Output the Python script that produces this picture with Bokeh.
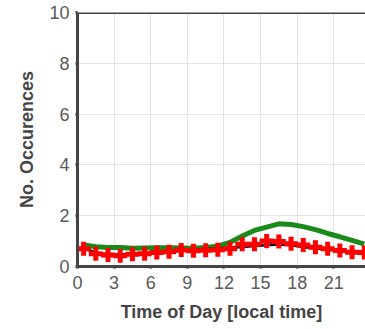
from bokeh.plotting import figure
from bokeh.models import FixedTicker, Range1d, Span
from bokeh.embed import file_html
from bokeh.resources import INLINE

hours = [h + 0.5 for h in range(24)]
green_vals = [0.85, 0.78, 0.75, 0.75, 0.72, 0.73, 0.74, 0.74, 0.73, 0.72, 0.75, 0.80,
              0.95, 1.20, 1.42, 1.55, 1.68, 1.65, 1.57, 1.45, 1.30, 1.17, 1.03, 0.88]
black_vals = [0.75, 0.52, 0.47, 0.46, 0.50, 0.52, 0.55, 0.59, 0.62, 0.65, 0.68, 0.70,
              0.74, 0.78, 0.82, 0.85, 0.88, 0.85, 0.78, 0.72, 0.67, 0.62, 0.58, 0.55]
red_vals = [0.70, 0.50, 0.45, 0.42, 0.48, 0.50, 0.55, 0.58, 0.65, 0.62, 0.64, 0.66,
            0.70, 0.88, 0.88, 1.00, 0.98, 0.90, 0.85, 0.76, 0.70, 0.63, 0.56, 0.55]
x_ticks = [0, 3, 6, 9, 12, 15, 18, 21, 24]
y_ticks = [0, 2, 4, 6, 8, 10]

FONT = "Liberation Sans"
AX = "#444444"

p = figure(width=365, height=329, output_backend="svg", toolbar_location=None,
           x_range=Range1d(0, 23.6), y_range=Range1d(0, 10),
           min_border_left=77, min_border_top=12, min_border_bottom=63, min_border_right=0)
p.outline_line_color = None
p.background_fill_color = "white"
p.border_fill_color = "white"

for ax in (p.xaxis[0], p.yaxis[0]):
    ax.axis_line_color = AX
    ax.axis_line_width = 3
    ax.major_tick_line_color = AX
    ax.major_tick_line_width = 3
    ax.major_tick_in = 0
    ax.major_tick_out = 2
    ax.minor_tick_line_color = None
    ax.major_label_text_font = FONT
    ax.major_label_text_font_size = "18px"
    ax.major_label_text_color = "#5a5a5a"
    ax.axis_label_text_font = FONT
    ax.axis_label_text_font_size = "18px"
    ax.axis_label_text_font_style = "bold"
    ax.axis_label_text_color = "#444444"

p.xaxis[0].ticker = FixedTicker(ticks=x_ticks)
p.yaxis[0].ticker = FixedTicker(ticks=y_ticks)
p.xaxis[0].axis_label = "Time of Day [local time]"
p.yaxis[0].axis_label = "No. Occurences"
p.xaxis[0].major_label_standoff = 7
p.yaxis[0].major_label_standoff = 6
p.xaxis[0].axis_label_standoff = 10
p.yaxis[0].axis_label_standoff = 9

p.add_layout(Span(location=10, dimension="width", line_color=AX, line_width=3))

p.xgrid.ticker = FixedTicker(ticks=x_ticks[1:-1])
p.ygrid.ticker = FixedTicker(ticks=y_ticks[1:-1])
for g in (p.xgrid[0], p.ygrid[0]):
    g.grid_line_color = "#c8c8c8"
    g.grid_line_dash = "1 1"
    g.grid_line_width = 1

p.line(hours, green_vals, line_color="#1a8a1a", line_width=5)
p.line(hours, black_vals, line_color="black", line_width=3)
p.scatter(hours, black_vals, marker="cross", size=7, line_color="#6a5acd", line_width=1.5)
p.scatter(hours, red_vals, marker="cross", size=14, line_color="#ff0000", line_width=5)

open("out.html", "w").write(file_html(p, INLINE))
